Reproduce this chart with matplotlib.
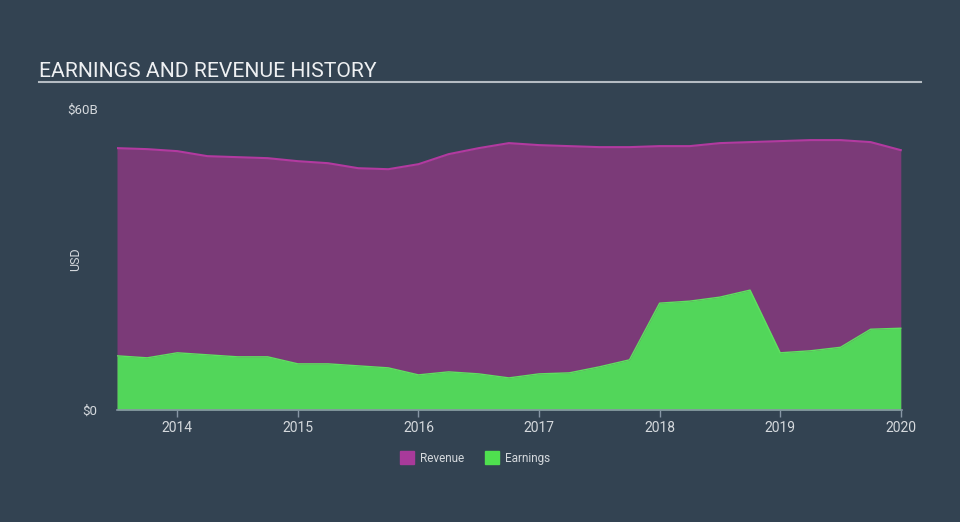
import matplotlib.pyplot as plt
from matplotlib.patches import Patch

plt.rcParams['font.family'] = ['Roboto', 'DejaVu Sans']

# Quartalsdaten (in Mrd. USD)
quarters = [2013.5, 2013.75, 2014.0, 2014.25, 2014.5, 2014.75, 2015.0, 2015.25,
            2015.5, 2015.75, 2016.0, 2016.25, 2016.5, 2016.75, 2017.0, 2017.25,
            2017.5, 2017.75, 2018.0, 2018.25, 2018.5, 2018.75, 2019.0, 2019.25,
            2019.5, 2019.75, 2020.0]
revenue = [52.2, 52.0, 51.6, 50.6, 50.4, 50.2, 49.6, 49.2,
           48.2, 48.0, 49.0, 51.0, 52.2, 53.2, 52.8, 52.6,
           52.4, 52.4, 52.6, 52.6, 53.2, 53.4, 53.6, 53.8,
           53.8, 53.4, 51.8]
earnings = [10.8, 10.4, 11.4, 11.0, 10.6, 10.6, 9.2, 9.2,
            8.8, 8.4, 7.0, 7.6, 7.2, 6.4, 7.2, 7.4,
            8.6, 10.0, 21.3, 21.7, 22.5, 23.9, 11.4, 11.8,
            12.5, 16.1, 16.3]
year_ticks = [2014, 2015, 2016, 2017, 2018, 2019, 2020]
y_ticks = [0, 60]
y_labels = ['$0', '$60B']

bg = '#334352'
fig = plt.figure(figsize=(9.6, 5.22), dpi=100, facecolor=bg)
ax = fig.add_axes([117 / 960, 1 - 410 / 522, 785 / 960, 301 / 522])
ax.set_facecolor(bg)

ax.fill_between(quarters, revenue, color='#7b3a78', lw=0)
ax.plot(quarters, revenue, color='#b23aa0', lw=1.5)
ax.fill_between(quarters, earnings, color='#52d65a', lw=0)
ax.plot(quarters, earnings, color='#5fe060', lw=1)

ax.set_xlim(quarters[0], 2020.01)
ax.set_ylim(0, 60)

for s in ['top', 'right', 'left']:
    ax.spines[s].set_visible(False)
ax.spines['bottom'].set_color('#8796a5')
ax.spines['bottom'].set_linewidth(1.2)

ax.set_xticks(year_ticks)
ax.set_xticklabels([str(y) for y in year_ticks])
ax.tick_params(axis='x', colors='#8796a5', length=5, width=1, labelcolor='#d5d9dd',
               labelsize=10, pad=3)
ax.set_yticks(y_ticks)
ax.set_yticklabels(y_labels)
ax.tick_params(axis='y', length=0, labelcolor='#d5d9dd', labelsize=9.5, pad=14)
ax.set_ylabel('USD', color='#d5d9dd', fontsize=9)
ax.yaxis.set_label_coords((82 - 117) / 785, 0.5)

# Titel mit Linie
fig.text(39 / 960, 1 - 77 / 522, 'EARNINGS AND REVENUE HISTORY', color='#eef0f2',
         fontsize=15.2, ha='left', va='baseline')
fig.add_artist(plt.Line2D([39 / 960, 921 / 960], [1 - 81.5 / 522, 1 - 81.5 / 522],
                          color='#b5bcc3', lw=1.5))

# Legende
handles = [Patch(color='#a83a9a', label='Revenue'), Patch(color='#4fe04f', label='Earnings')]
fig.legend(handles=handles, loc='center', bbox_to_anchor=(475 / 960, 1 - 458 / 522),
           ncol=2, frameon=False, fontsize=8.5, labelcolor='#d5d9dd',
           handlelength=1.2, handleheight=1.2, columnspacing=1.8, handletextpad=0.5)

fig.savefig('out.png', dpi=100, facecolor=bg)
